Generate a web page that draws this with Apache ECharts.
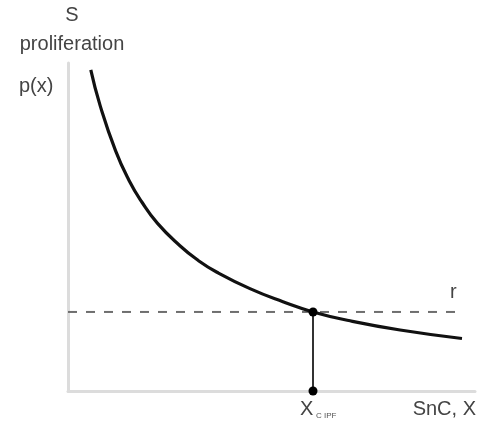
<!DOCTYPE html>
<html>
<head>
<meta charset="utf-8">
<script src="https://cdn.jsdelivr.net/npm/echarts@6/dist/echarts.min.js"></script>
<style>
html,body{margin:0;padding:0;background:#fff;}
#c{width:479px;height:429px;}
</style>
</head>
<body>
<div id="c"></div>
<script>
// Data (arbitrary units, x: 0..100, y: 0..100)
var curveX = [5.6, 7.9, 11.7, 15.0, 18.1, 22.0, 27.5, 32.0, 36.6, 44.7, 52.8, 60.2, 69.3, 81.6, 96.8];
var curveY = [97.9, 87.0, 73.2, 64.2, 57.7, 51.1, 44.3, 39.8, 36.2, 31.2, 27.2, 24.1, 21.4, 18.6, 16.0];
var rLevel = 24.1;
var rLineX = [0, 96.8];
var xCritical = 60.2;
var xAxisTitle = 'SnC, X';
var yAxisTitle = ['S', 'proliferation', 'p(x)'];

var chart = echarts.init(document.getElementById('c'), null, {renderer: 'canvas'});
var font = 'Liberation Sans, Arial, Helvetica, sans-serif';
var curveData = curveX.map(function (x, i) { return [x, curveY[i]]; });
var rData = rLineX.map(function (x) { return [x, rLevel]; });
var vData = [[xCritical, 0], [xCritical, rLevel]];

chart.setOption({
  animation: false,
  backgroundColor: '#fff',
  grid: {left: 68, right: 4, top: 63, bottom: 38, containLabel: false},
  xAxis: {
    type: 'value', min: 0, max: 100,
    axisLine: {show: true, lineStyle: {color: '#dcdcdc', width: 3}},
    axisTick: {show: false}, axisLabel: {show: false}, splitLine: {show: false}
  },
  yAxis: {
    type: 'value', min: 0, max: 100,
    axisLine: {show: true, lineStyle: {color: '#dcdcdc', width: 3}},
    axisTick: {show: false}, axisLabel: {show: false}, splitLine: {show: false}
  },
  series: [
    {
      type: 'line', data: rData, showSymbol: false, silent: true,
      lineStyle: {color: '#6e6e6e', width: 2, type: [9, 9]}
    },
    {
      type: 'line', data: curveData, smooth: 0.5, showSymbol: false, silent: true,
      lineStyle: {color: '#111', width: 3.2}
    },
    {
      type: 'line', data: vData, showSymbol: true, symbol: 'circle', symbolSize: 9, silent: true,
      itemStyle: {color: '#000'},
      lineStyle: {color: '#333', width: 2}
    }
  ],
  graphic: [
    {type: 'text', style: {text: yAxisTitle[0], fill: '#444', font: '20px ' + font, textAlign: 'center'}, position: [72, 5]},
    {type: 'text', style: {text: yAxisTitle[1], fill: '#444', font: '20px ' + font, textAlign: 'center'}, position: [72, 34]},
    {type: 'text', style: {text: yAxisTitle[2], fill: '#444', font: '20px ' + font, textAlign: 'left'}, position: [19, 76]},
    {type: 'text', style: {text: 'r', fill: '#444', font: '20px ' + font, textAlign: 'left'}, position: [450, 282]},
    {type: 'text', style: {text: xAxisTitle, fill: '#444', font: '20px ' + font, textAlign: 'right'}, position: [476, 399]},
    {type: 'text', style: {text: 'X', fill: '#444', font: '20px ' + font, textAlign: 'left'}, position: [300, 399]},
    {type: 'text', style: {text: 'C IPF', fill: '#555', font: '8px ' + font, textAlign: 'left'}, position: [316, 412]}
  ]
});
</script>
</body>
</html>
